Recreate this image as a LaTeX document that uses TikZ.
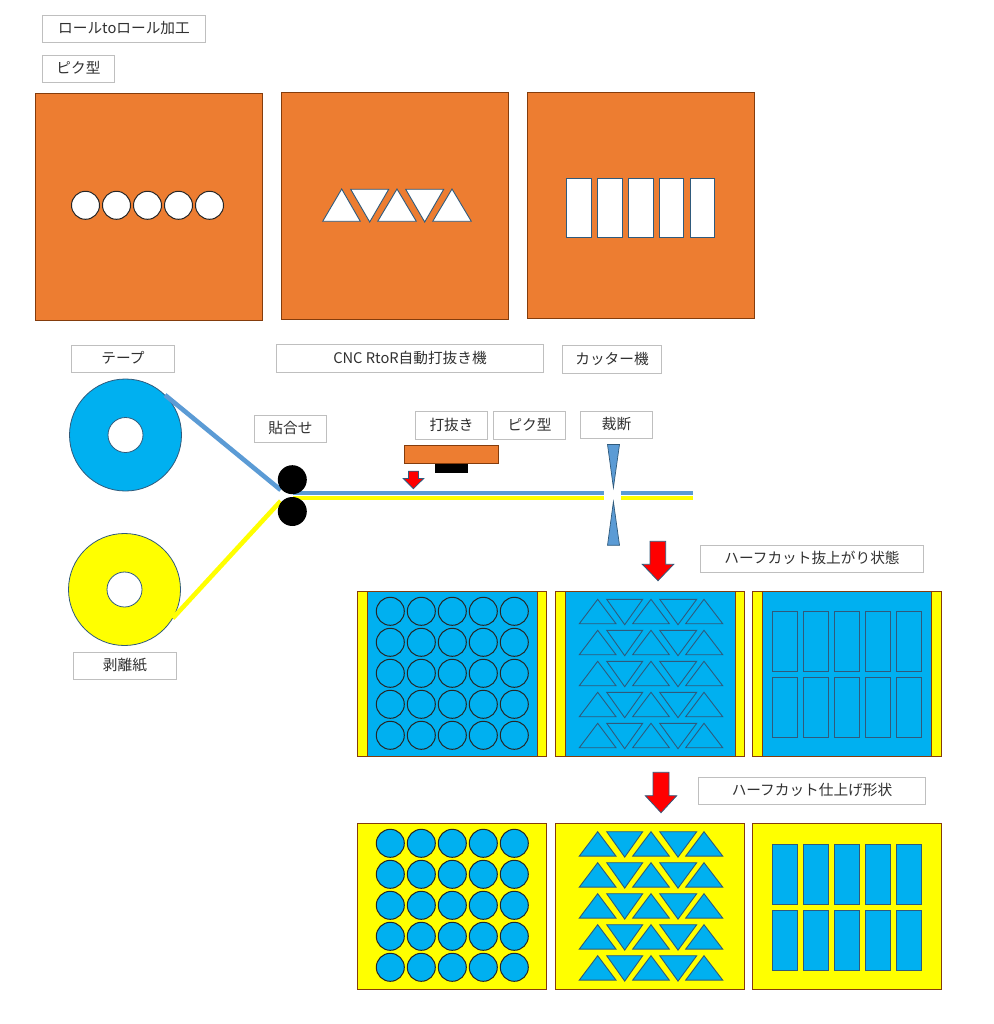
\documentclass[tikz,border=0pt]{standalone}
\usepackage{fontspec}
\setmainfont{Noto Sans CJK JP}
\definecolor{oOrange}{HTML}{ED7D31}
\definecolor{oBrown}{HTML}{843C0C}
\definecolor{oBlue}{HTML}{00B0F0}
\definecolor{oLine}{HTML}{5B9BD5}
\definecolor{oEdge}{HTML}{2F5A7C}
\definecolor{oGrey}{HTML}{BFBFBF}
\definecolor{oText}{HTML}{303030}
\definecolor{oYellow}{HTML}{FFFF00}
\definecolor{oRed}{HTML}{FF0000}
\tikzset{
  x=1pt,y=-1pt,
  lab/.style={draw=oGrey,line width=1pt,fill=white,inner sep=0pt,outer sep=0pt,text=oText,font=\fontsize{14.67}{17}\selectfont,anchor=center},
  panelO/.style={fill=oOrange,draw=oBrown,line width=1pt},
  panelB/.style={fill=oBlue,draw=oBrown,line width=1pt},
  panelY/.style={fill=oYellow,draw=oBrown,line width=1pt},
  edgeblack/.style={draw=black!85,line width=1pt},
  edgeblue/.style={draw=oEdge,line width=.9pt,line join=miter},
  roll/.style={circle,draw=oEdge,line width=.8pt,inner sep=0pt,outer sep=0pt,minimum size=112pt},
  hole/.style={circle,draw=oEdge,line width=.8pt,fill=white,inner sep=0pt,outer sep=0pt,minimum size=35pt},
  nip/.style={circle,fill=black,inner sep=0pt,outer sep=0pt,minimum size=29pt},
  tapeline/.style={draw=oLine,line width=4.6pt},
  paperline/.style={draw=oYellow,line width=4.6pt},
  redarrow/.style={fill=oRed,draw=oEdge,line width=.8pt,line join=miter},
  cutter/.style={fill=oLine,draw=oEdge,line width=.7pt,line join=miter},
}
% label: name, x0, y0, x1, y1, text
\newcommand{\lbl}[6]{\node[lab,minimum width=#4pt-#2pt,minimum height=#5pt-#3pt] (#1) at ({(#2+#4)/2},{(#3+#5)/2}) {\raisebox{2.5pt}{#6}};}
% five triangles in a row: top y, fill colour
\newcommand{\trirow}[2]{%
  \foreach \xa/\xb/\xc in {579.3/616/597.7,632.7/669.3/651,685.7/722.7/704}
    \filldraw[edgeblue,fill=#2] (\xa,#1+24.4) -- (\xc,#1) -- (\xb,#1+24.4) -- cycle;
  \foreach \xa/\xb/\xc in {606.7/642.7/624.7,659.7/696.7/678}
    \filldraw[edgeblue,fill=#2] (\xa,#1) -- (\xb,#1) -- (\xc,#1+25.4) -- cycle;
}
\begin{document}
\begin{tikzpicture}
\fill[white] (0,0) rectangle (993,1024);
\useasboundingbox (0,0) rectangle (993,1024);

% top labels
\lbl{title}{42.5}{15.5}{205.5}{42.5}{ロールtoロール加工}
\lbl{typeA}{42.5}{55.5}{114.5}{82.5}{ピク型}

% orange dies
\draw[panelO] (35.5,93.5) rectangle (262.5,320.5);
\draw[panelO] (281.5,92.5) rectangle (508.5,319.5);
\draw[panelO] (527.5,92.5) rectangle (754.5,318.5);
\foreach \cx in {85.5,116.5,147.5,178.5,209.5}
  \filldraw[edgeblack,fill=white] (\cx,205.3) circle (14);
\filldraw[edgeblue,fill=white] (322.7,221.3) -- (341.7,189) -- (360.3,221.3) -- cycle;
\filldraw[edgeblue,fill=white] (350.7,189.3) -- (388.7,189.3) -- (369.7,222) -- cycle;
\filldraw[edgeblue,fill=white] (377.7,221.3) -- (397,189) -- (416.3,221.3) -- cycle;
\filldraw[edgeblue,fill=white] (405.7,189.3) -- (443.7,189.3) -- (424.7,222) -- cycle;
\filldraw[edgeblue,fill=white] (432.7,221.3) -- (452,189) -- (471.3,221.3) -- cycle;
\foreach \xa/\xb in {566.5/591.5,597.5/622.5,628.5/653.5,659.5/683.5,690.5/714.5}
  \filldraw[edgeblue,fill=white] (\xa,178.5) rectangle (\xb,237.5);

% process labels
\lbl{tapeLab}{71.5}{345.5}{174.5}{372.5}{テープ}
\lbl{cncLab}{276.5}{344.5}{543.5}{372.5}{CNC RtoR自動打抜き機}
\lbl{cutLab}{562.5}{345.5}{661.5}{373.5}{カッター機}
\lbl{bondLab}{254.5}{415.5}{326.5}{442.5}{貼合せ}
\lbl{punchLab}{415.5}{411.5}{487.5}{439.5}{打抜き}
\lbl{typeB}{493.5}{411.5}{565.5}{439.5}{ピク型}
\lbl{sliceLab}{580.5}{411.5}{652.5}{438.5}{裁断}
\lbl{paperLab}{73.5}{652.5}{176.5}{679.5}{剥離紙}
\lbl{halfLab}{700.5}{545.5}{923.5}{572.5}{ハーフカット抜上がり状態}
\lbl{finishLab}{698.5}{777.5}{925.5}{804.5}{ハーフカット仕上げ形状}

% rolls
\node[roll,fill=oBlue] (tapeRoll) at (125.5,435) {};
\node[hole] (tapeHole) at (125.5,435) {};
\node[roll,fill=oYellow] (paperRoll) at (124.5,589.5) {};
\node[hole] (paperHole) at (124.5,589.5) {};

% webs
\coordinate (tapeStart) at (165,395);
\coordinate (paperStart) at (172.7,618.3);
\coordinate (nipT) at (280.7,490);
\coordinate (nipP) at (280.7,501);
\coordinate (tapeA) at (293,493);
\coordinate (tapeB) at (604,493);
\coordinate (tapeC) at (621,493);
\coordinate (tapeD) at (692.7,493);
\coordinate (paperA) at (293,497.8);
\coordinate (paperB) at (604,497.8);
\coordinate (paperC) at (621,497.8);
\coordinate (paperD) at (692.7,497.8);
\draw[tapeline] (tapeStart) -- (nipT);
\draw[paperline] (paperStart) -- (nipP);
\draw[paperline] (paperA) -- (paperB);
\draw[paperline] (paperC) -- (paperD);
\draw[tapeline] (tapeA) -- (tapeB);
\draw[tapeline] (tapeC) -- (tapeD);
\node[nip] (nipTop) at (292.3,479.7) {};
\node[nip] (nipBot) at (292.3,511.5) {};

% punch
\filldraw[fill=oOrange,draw=oBrown,line width=.8pt] (404.5,445.5) rectangle (498.5,463.5);
\fill[black] (435,463.7) rectangle (468,472.7);
\filldraw[redarrow] (408.5,471.2) -- (418.5,471.2) -- (418.5,478.5) -- (423.7,478.5) -- (413.4,488.7) -- (403.3,478.5) -- (408.5,478.5) -- cycle;

% cutters
\filldraw[cutter] (607.5,444.5) -- (619.5,444.5) -- (613.4,487.7) -- cycle;
\filldraw[cutter] (607.5,545.3) -- (619.5,545.3) -- (613.4,501.7) -- cycle;

% big arrows
\filldraw[redarrow] (650,541.3) -- (665.7,541.3) -- (665.7,564.3) -- (673.7,564.3) -- (658,580.7) -- (642.3,564.3) -- (650,564.3) -- cycle;
\filldraw[redarrow] (653,772.3) -- (669,772.3) -- (669,795.7) -- (676.7,795.7) -- (661,812.7) -- (645.3,795.7) -- (653,795.7) -- cycle;

% half-cut state
\foreach \xa/\xb/\xc/\xd in {357.5/367.5/537.5/546.5,555.5/565.5/735.5/744.5,752.5/762.5/931.5/941.5}{
  \draw[panelB] (\xa,591.5) rectangle (\xd,756.5);
  \draw[panelY] (\xa,591.5) rectangle (\xb,756.5);
  \draw[panelY] (\xc,591.5) rectangle (\xd,756.5);
}
\foreach \cy in {611.3,642.3,673.3,704.3,735.3}
  \foreach \cx in {390.3,421.3,452.3,483.3,514.3}
    \draw[edgeblack] (\cx,\cy) circle (14);
\foreach \ty in {599.3,630.3,661.3,692.3,723.3}
  {\trirow{\ty}{oBlue}}
\foreach \xa/\xb in {772.5/797.5,803.5/828.5,834.5/859.5,865.5/890.5,896.5/921.5}{
  \draw[edgeblue] (\xa,611.5) rectangle (\xb,671.5);
  \draw[edgeblue] (\xa,677.5) rectangle (\xb,737.5);
}

% finished shape
\foreach \xa/\xd in {357.5/546.5,555.5/744.5,752.5/941.5}
  \draw[panelY] (\xa,823.5) rectangle (\xd,989.5);
\foreach \cy in {843.3,874.3,905.3,936.3,967.3}
  \foreach \cx in {390.3,421.3,452.3,483.3,514.3}
    \filldraw[edgeblack,fill=oBlue] (\cx,\cy) circle (14);
\foreach \ty in {831.7,862.7,893.7,924.7,955.7}
  {\trirow{\ty}{oBlue}}
\foreach \xa/\xb in {772.5/797.5,803.5/828.5,834.5/859.5,865.5/890.5,896.5/921.5}{
  \filldraw[edgeblue,fill=oBlue] (\xa,844.5) rectangle (\xb,904.5);
  \filldraw[edgeblue,fill=oBlue] (\xa,910.5) rectangle (\xb,970.5);
}
\end{tikzpicture}
\end{document}
